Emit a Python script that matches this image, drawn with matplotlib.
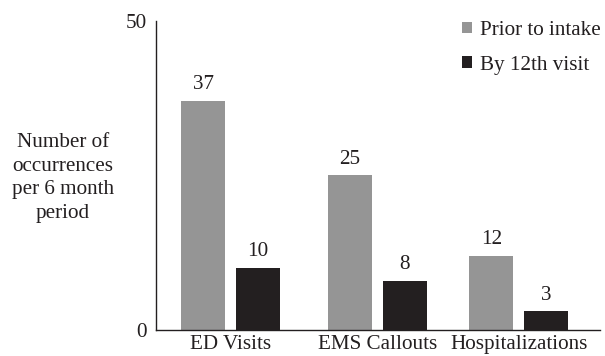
import numpy as np
import matplotlib
matplotlib.use("Agg")
import matplotlib.pyplot as plt

categories = ["ED Visits", "EMS Callouts", "Hospitalizations"]
prior = [37, 25, 12]
by_12th = [10, 8, 3]
series_names = ["Prior to intake", "By 12th visit"]

plt.rcParams["font.family"] = ["Liberation Serif", "DejaVu Serif"]
FS = 15.2
INK = "#231f20"

fig = plt.figure(figsize=(6.05, 3.56), dpi=100)
ax = fig.add_axes([0.258, 0.073, 0.734, 0.869])

x = np.array([0.0, 1.02, 2.0])
w = 0.305
off = 0.19
b1 = ax.bar(x - off, prior, w, color="#959595", label=series_names[0])
b2 = ax.bar(x + off, by_12th, w, color=INK, label=series_names[1])
for bars, vals in ((b1, prior), (b2, by_12th)):
    for r, v in zip(bars, vals):
        ax.text(r.get_x() + r.get_width() / 2, v + 1.1, f"{v}",
                ha="center", va="bottom", fontsize=FS, color=INK)

ax.set_ylim(0, 50)
ax.set_xlim(-0.517, 2.566)
ax.set_yticks([0, 50])
ax.set_xticks(x)
ax.set_xticklabels(categories)
ax.tick_params(length=0, labelsize=FS, colors=INK)
ax.tick_params(axis="x", pad=3.5)
ax.tick_params(axis="y", pad=7)
for s in ("top", "right"):
    ax.spines[s].set_visible(False)
for s in ("left", "bottom"):
    ax.spines[s].set_color(INK)
    ax.spines[s].set_linewidth(1.0)

fig.text(0.104, 0.5, "Number of\noccurrences\nper 6 month\nperiod",
         ha="center", va="center", fontsize=FS, color=INK,
         linespacing=1.32)

ax.legend(loc="upper right", bbox_to_anchor=(1.043, 1.06), frameon=False,
          fontsize=FS, handlelength=0.48, handleheight=0.48,
          handletextpad=0.35, labelspacing=0.74, labelcolor=INK)

fig.savefig("out.png", dpi=100)
